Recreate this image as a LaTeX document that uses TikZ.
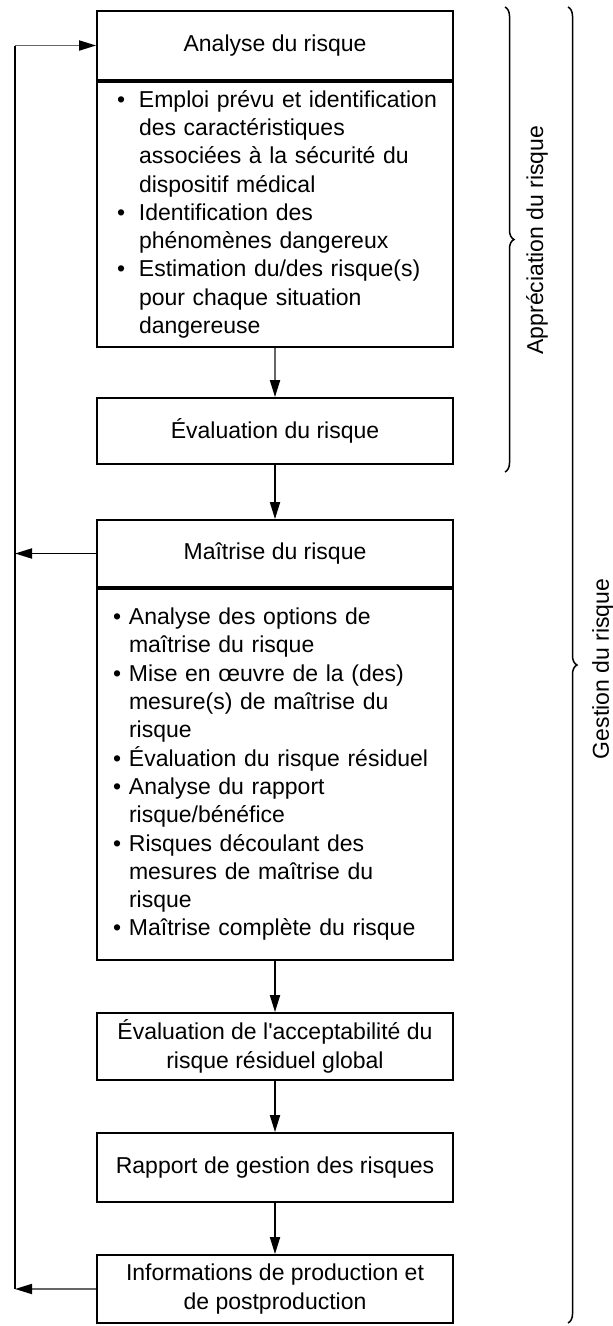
\documentclass[tikz,border=0pt]{standalone}
\usepackage{fontspec}
\setmainfont{Liberation Sans}
\usetikzlibrary{positioning,arrows.meta,decorations.pathreplacing}

\newcommand{\bul}[1]{\hspace*{#1}\makebox[22pt][l]{\textbullet}}
\newcommand{\cnt}[1]{\hspace*{#1}\hspace*{22pt}}
\newcommand{\bulm}{\hspace*{11pt}\makebox[16pt][l]{\textbullet}}
\newcommand{\cntm}{\hspace*{27pt}}

\begin{document}
\begin{tikzpicture}[x=1pt,y=1pt,
  box/.style={draw,line width=1.8pt,minimum width=356pt,inner sep=0pt,align=center,font=\fontsize{23}{28.3}\selectfont},
  body/.style={box,text width=346pt,inner xsep=5pt,align=left},
  arr/.style={line width=1.8pt,-{Triangle[length=17pt,width=10pt]}},
  garr/.style={line width=1.8pt,black!60,-{Triangle[length=17pt,width=10pt,color=black]}},
  brc/.style={line width=1.5pt,decorate,decoration={brace,amplitude=9pt}},
  lbl/.style={rotate=90,font=\fontsize{23}{28.3}\selectfont}
]
\useasboundingbox (0,0) rectangle (613,-1326);
\node[box,minimum height=69pt] (ana) at (275,-45.5) {Analyse du risque};
\node[body,minimum height=265pt,below=0pt of ana] (anab) {%
\bul{15pt}Emploi prévu et identification\\
\cnt{15pt}des caractéristiques\\
\cnt{15pt}associées à la sécurité du\\
\cnt{15pt}dispositif médical\\
\bul{15pt}Identification des\\
\cnt{15pt}phénomènes dangereux\\
\bul{15pt}Estimation du/des risque(s)\\
\cnt{15pt}pour chaque situation\\
\cnt{15pt}dangereuse};
\node[box,minimum height=66pt] (eva) at (275,-431) {Évaluation du risque};
\node[box,minimum height=67pt] (mai) at (275,-553.5) {Maîtrise du risque};
\node[body,minimum height=371pt,below=0pt of mai] (maib) {%
\bulm Analyse des options de\\
\cntm maîtrise du risque\\
\bulm Mise en œuvre de la (des)\\
\cntm mesure(s) de maîtrise du\\
\cntm risque\\
\bulm Évaluation du risque résiduel\\
\bulm Analyse du rapport\\
\cntm risque/bénéfice\\
\bulm Risques découlant des\\
\cntm mesures de maîtrise du\\
\cntm risque\\
\bulm Maîtrise complète du risque};
\node[box,minimum height=67pt] (acc) at (275,-1046.5) {Évaluation de l\textquotesingle acceptabilité du\\risque résiduel global};
\node[box,minimum height=69pt] (rap) at (275,-1167.5) {Rapport de gestion des risques};
\node[box,minimum height=68pt] (inf) at (275,-1289) {Informations de production et\\de postproduction};
\coordinate (fbx) at (15,0);
\draw[garr] (anab) -- (eva);
\draw[arr] (eva) -- (mai);
\draw[arr] (maib) -- (acc);
\draw[arr] (acc) -- (rap);
\draw[arr] (rap) -- (inf);
\draw[arr] (mai.west) -- (mai.west -| fbx);
\draw[garr] (inf.west) -- (inf.west -| fbx);
\draw[line width=1.8pt] (inf.west -| fbx) -- (ana.west -| fbx);
\draw[garr] (ana.west -| fbx) -- (ana.west);
\coordinate (ap1) at (505,-7);
\coordinate (ap2) at (505,-472);
\coordinate (ge1) at (568,-7);
\coordinate (ge2) at (568,-1323);
\draw[brc] (ap1) -- (ap2);
\draw[brc] (ge1) -- (ge2);
\node[lbl] (apt) at (537,-240) {Appréciation du risque};
\node[lbl] (get) at (603,-669) {Gestion du risque};
\end{tikzpicture}
\end{document}
